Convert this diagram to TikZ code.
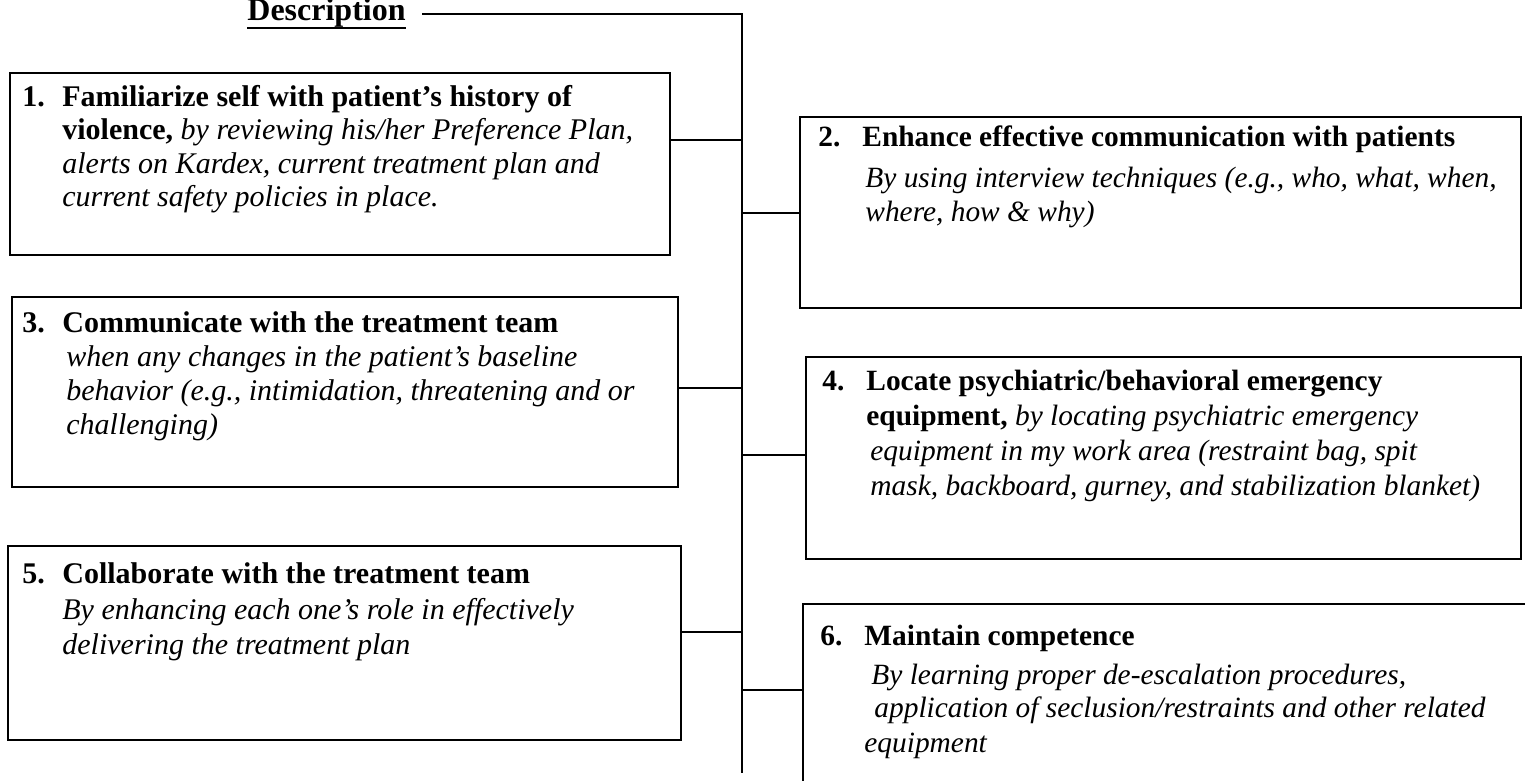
\documentclass[tikz,border=0pt]{standalone}
\usepackage{fontspec}
\setmainfont{Liberation Serif}
\usetikzlibrary{fit}
\tikzset{
  boxs/.style={draw, line width=1.2pt, inner sep=0pt},
  conn/.style={draw, line width=1.4pt},
  ln/.style={anchor=base west, inner sep=0pt, font=\fontsize{15}{18}\selectfont},
  lnr/.style={anchor=base west, inner sep=0pt, font=\fontsize{14.7}{18}\selectfont},
}
\newcommand{\tl}[4]{\node[ln] (#1) at (#2,#3) {#4};}
\newcommand{\tr}[4]{\node[lnr] (#1) at (#2,#3) {#4};}
\begin{document}
\begin{tikzpicture}[x=0.5pt,y=-0.5pt]
\useasboundingbox (0,0) rectangle (1525,781);
% header
\node[anchor=base west, inner sep=0pt, font=\fontsize{16}{19}\bfseries\selectfont] (desc) at (247,21) {Description};
\draw[line width=1.3pt] ([yshift=-3.6pt]desc.base west) -- ([yshift=-3.6pt]desc.base east);
\coordinate (dstart) at (422,14);
\coordinate (top) at (742,14);
\coordinate (bottom) at (742,773);
\draw[conn] (dstart) -- (top) -- (bottom);
% boxes
\node[boxs, fit={(10,73) (670,255)}] (b1) {};
\node[boxs, fit={(800,117) (1521,308)}] (b2) {};
\node[boxs, fit={(12,297) (678,487)}] (b3) {};
\node[boxs, fit={(806,357) (1521,559)}] (b4) {};
\node[boxs, fit={(8,546) (681,740)}] (b5) {};
\coordinate (b6nw) at (803,604);
\coordinate (b6ne) at (1525,604);
\coordinate (b6sw) at (803,781);
\draw[line width=1.2pt] (b6ne) -- (b6nw) -- (b6sw);
% junctions
\coordinate (j1) at (742,140);
\coordinate (j2) at (742,213);
\coordinate (j3) at (742,388);
\coordinate (j4) at (742,455);
\coordinate (j5) at (742,632);
\coordinate (j6) at (742,690);
\draw[conn] (b1.east |- j1) -- (j1);
\draw[conn] (j2) -- (b2.west |- j2);
\draw[conn] (b3.east |- j3) -- (j3);
\draw[conn] (j4) -- (b4.west |- j4);
\draw[conn] (b5.east |- j5) -- (j5);
\draw[conn] (j6) -- (b6nw |- j6);
% box 1
\tl{n1}{22}{106}{\textbf{1.}}
\tl{t1a}{62}{106}{\textbf{Familiarize self with patient’s history of}}
\tl{t1b}{62}{140}{\textbf{violence,} \textit{by reviewing his/her Preference Plan,}}
\tl{t1c}{62}{173}{\textit{alerts on Kardex, current treatment plan and}}
\tl{t1d}{62}{206}{\textit{current safety policies in place.}}
% box 2
\tr{n2}{818}{147}{\textbf{2.}}
\tr{t2a}{862}{147}{\textbf{Enhance effective communication with patients}}
\tr{t2b}{865}{187}{\textit{By using interview techniques (e.g., who, what, when,}}
\tr{t2c}{865}{221}{\textit{where, how \& why)}}
% box 3
\tl{n3}{22}{332}{\textbf{3.}}
\tl{t3a}{62}{332}{\textbf{Communicate with the treatment team}}
\tl{t3b}{66}{366}{\textit{when any changes in the patient’s baseline}}
\tl{t3c}{66}{400}{\textit{behavior (e.g., intimidation, threatening and or}}
\tl{t3d}{66}{434}{\textit{challenging)}}
% box 4
\tr{n4}{822}{390}{\textbf{4.}}
\tr{t4a}{866}{390}{\textbf{Locate psychiatric/behavioral emergency}}
\tr{t4b}{866}{425}{\textbf{equipment,} \textit{by locating psychiatric emergency}}
\tr{t4c}{870}{460}{\textit{equipment in my work area (restraint bag, spit}}
\tr{t4d}{870}{495}{\textit{mask, backboard, gurney, and stabilization blanket)}}
% box 5
\tl{n5}{22}{583}{\textbf{5.}}
\tl{t5a}{62}{583}{\textbf{Collaborate with the treatment team}}
\tl{t5b}{62}{619}{\textit{By enhancing each one’s role in effectively}}
\tl{t5c}{62}{654}{\textit{delivering the treatment plan}}
% box 6
\tr{n6}{820}{645}{\textbf{6.}}
\tr{t6a}{864}{645}{\textbf{Maintain competence}}
\tr{t6b}{871}{684}{\textit{By learning proper de-escalation procedures,}}
\tr{t6c}{874}{717}{\textit{application of seclusion/restraints and other related}}
\tr{t6d}{864}{752}{\textit{equipment}}
\end{tikzpicture}
\end{document}
